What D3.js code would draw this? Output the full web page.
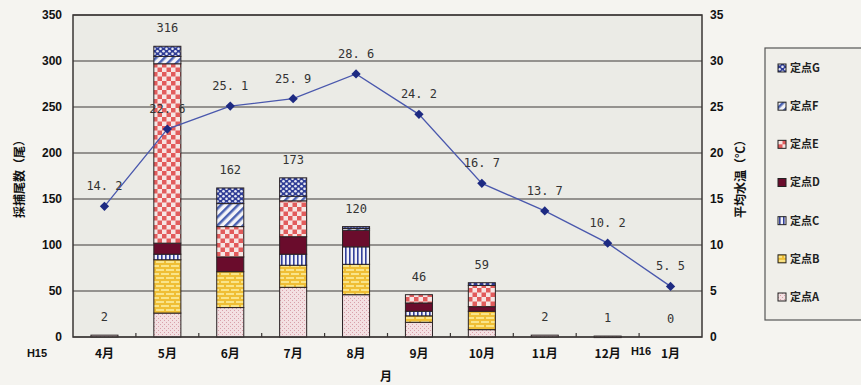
<!DOCTYPE html>
<html>
<head>
<meta charset="utf-8">
<script src="https://cdn.jsdelivr.net/npm/d3@7"></script>
<style>
  body { margin: 0; background: #f5f4f0; }
  svg { display: block; }
</style>
</head>
<body>
<div id="graph"></div>
<script>
// categories
var months = ["4月", "5月", "6月", "7月", "8月", "9月", "10月", "11月", "12月", "1月"];
// catch per station (stacked, bottom to top)
var pointA = [2, 26, 32, 54, 46, 16, 8, 2, 1, 0];
var pointB = [0, 58, 39, 24, 33, 7, 20, 0, 0, 0];
var pointC = [0, 6, 0, 12, 19, 5, 0, 0, 0, 0];
var pointD = [0, 12, 16, 19, 18, 9, 5, 0, 0, 0];
var pointE = [0, 195, 33, 39, 0, 9, 23, 0, 0, 0];
var pointF = [0, 8, 25, 5, 2, 0, 0, 0, 0, 0];
var pointG = [0, 11, 17, 20, 2, 0, 3, 0, 0, 0];
// mean water temperature
var temps = [14.2, 22.6, 25.1, 25.9, 28.6, 24.2, 16.7, 13.7, 10.2, 5.5];
// tick labels
var leftTicks = [0, 50, 100, 150, 200, 250, 300, 350];
var rightTicks = [0, 5, 10, 15, 20, 25, 30, 35];
var keys = ["A", "B", "C", "D", "E", "F", "G"];
var keyNames = ["定点A", "定点B", "定点C", "定点D", "定点E", "定点F", "定点G"];

var series = {A: pointA, B: pointB, C: pointC, D: pointD, E: pointE, F: pointF, G: pointG};
var rows = months.map(function(m, i) {
  var r = {month: m, temp: temps[i]};
  keys.forEach(function(k) { r[k] = series[k][i]; });
  return r;
});

var width = 861, height = 385;
var margin = {left: 73, right: 159, top: 15, bottom: 48};
var jpFont = "'Noto Sans CJK JP', sans-serif";
var numFont = "'Liberation Sans', Arial, sans-serif";
var monoFont = "'DejaVu Sans Mono', monospace";

var svg = d3.select("#graph").append("svg")
  .attr("width", width).attr("height", height);

var x = d3.scaleBand()
  .domain(months)
  .range([margin.left, width - margin.right])
  .paddingInner(0.57)
  .paddingOuter(0.285);

var y = d3.scaleLinear().domain([0, 350]).range([height - margin.bottom, margin.top]);
var y2 = d3.scaleLinear().domain([0, 35]).range([height - margin.bottom, margin.top]);

//patterns
var defs = svg.append("defs");

var pA = defs.append("pattern").attr("id", "patA").attr("patternUnits", "userSpaceOnUse")
  .attr("width", 4).attr("height", 4);
pA.append("rect").attr("width", 4).attr("height", 4).attr("fill", "#f3e0e2");
pA.append("rect").attr("x", 0).attr("y", 0).attr("width", 1).attr("height", 1).attr("fill", "#d9a0aa");
pA.append("rect").attr("x", 2).attr("y", 2).attr("width", 1).attr("height", 1).attr("fill", "#d9a0aa");

var pB = defs.append("pattern").attr("id", "patB").attr("patternUnits", "userSpaceOnUse")
  .attr("width", 10).attr("height", 8);
pB.append("rect").attr("width", 10).attr("height", 8).attr("fill", "#efbe35");
pB.append("rect").attr("x", 1).attr("y", 1).attr("width", 8).attr("height", 2).attr("fill", "#f9e48a");
pB.append("rect").attr("x", 6).attr("y", 5).attr("width", 8).attr("height", 2).attr("fill", "#f9e48a");
pB.append("rect").attr("x", -4).attr("y", 5).attr("width", 8).attr("height", 2).attr("fill", "#f9e48a");

var pC = defs.append("pattern").attr("id", "patC").attr("patternUnits", "userSpaceOnUse")
  .attr("width", 4).attr("height", 4);
pC.append("rect").attr("width", 4).attr("height", 4).attr("fill", "#f2f2f8");
pC.append("rect").attr("x", 1).attr("width", 1.6).attr("height", 4).attr("fill", "#33409a");

var pE = defs.append("pattern").attr("id", "patE").attr("patternUnits", "userSpaceOnUse")
  .attr("width", 9).attr("height", 9);
pE.append("rect").attr("width", 9).attr("height", 9).attr("fill", "#f6e6e4");
pE.append("rect").attr("width", 4.5).attr("height", 4.5).attr("fill", "#e25c5c");
pE.append("rect").attr("x", 4.5).attr("y", 4.5).attr("width", 4.5).attr("height", 4.5).attr("fill", "#e25c5c");

var pF = defs.append("pattern").attr("id", "patF").attr("patternUnits", "userSpaceOnUse")
  .attr("width", 6).attr("height", 6).attr("patternTransform", "rotate(45)");
pF.append("rect").attr("width", 6).attr("height", 6).attr("fill", "#f4f4f8");
pF.append("rect").attr("width", 2.5).attr("height", 6).attr("fill", "#4a62b2");

var pG = defs.append("pattern").attr("id", "patG").attr("patternUnits", "userSpaceOnUse")
  .attr("width", 6).attr("height", 5);
pG.append("rect").attr("width", 6).attr("height", 5).attr("fill", "#2f3d96");
pG.append("circle").attr("cx", 1.5).attr("cy", 1.3).attr("r", 1.3).attr("fill", "#e6e8f2");
pG.append("circle").attr("cx", 4.5).attr("cy", 3.8).attr("r", 1.3).attr("fill", "#e6e8f2");

var fills = {A: "url(#patA)", B: "url(#patB)", C: "url(#patC)", D: "#6a0c2c",
             E: "url(#patE)", F: "url(#patF)", G: "url(#patG)"};

//plot area
svg.append("rect")
  .attr("x", margin.left).attr("y", margin.top)
  .attr("width", width - margin.left - margin.right)
  .attr("height", height - margin.top - margin.bottom)
  .attr("fill", "#ebebe6");

//gridlines
svg.append("g").selectAll("line")
  .data(leftTicks)
  .enter().append("line")
  .attr("x1", margin.left).attr("x2", width - margin.right)
  .attr("y1", function(d) { return y(d); }).attr("y2", function(d) { return y(d); })
  .attr("stroke", "#3e3a38").attr("stroke-width", 1.2);

//stacked bars
var stack = d3.stack().keys(keys);
var layers = stack(rows);

svg.append("g").selectAll("g")
  .data(layers)
  .enter().append("g")
  .attr("fill", function(d) { return fills[d.key]; })
  .selectAll("rect")
  .data(function(d) { return d.filter(function(s) { return s[1] - s[0] > 0; }); })
  .enter().append("rect")
  .attr("x", function(d) { return x(d.data.month); })
  .attr("width", x.bandwidth())
  .attr("y", function(d) { return y(d[1]); })
  .attr("height", function(d) { return Math.max(1.5, y(d[0]) - y(d[1])); })
  .attr("stroke", "#2a2224").attr("stroke-width", 1);

//plot border
svg.append("rect")
  .attr("x", margin.left).attr("y", margin.top)
  .attr("width", width - margin.left - margin.right)
  .attr("height", height - margin.top - margin.bottom)
  .attr("fill", "none").attr("stroke", "#3a3634").attr("stroke-width", 1.5);

//x ticks at category boundaries
svg.append("g").selectAll("line")
  .data(months.slice(1))
  .enter().append("line")
  .attr("x1", function(d) { return x(d) - x.step() * x.paddingInner() / 2; })
  .attr("x2", function(d) { return x(d) - x.step() * x.paddingInner() / 2; })
  .attr("y1", y(0)).attr("y2", y(0) - 4)
  .attr("stroke", "#3a3634").attr("stroke-width", 1.2);

//total labels
svg.append("g").selectAll("text")
  .data(rows)
  .enter().append("text")
  .attr("x", function(d) { return x(d.month) + x.bandwidth() / 2; })
  .attr("y", function(d) {
    var t = d3.sum(keys, function(k) { return d[k]; });
    return y(t) - 14;
  })
  .attr("text-anchor", "middle")
  .attr("font-family", monoFont).attr("font-size", 12).attr("fill", "#333")
  .text(function(d) { return d3.sum(keys, function(k) { return d[k]; }); });

//temperature line
var line = d3.line()
  .x(function(d) { return x(d.month) + x.bandwidth() / 2; })
  .y(function(d) { return y2(d.temp); });

svg.append("path")
  .datum(rows)
  .attr("d", line)
  .attr("fill", "none").attr("stroke", "#4a58ad").attr("stroke-width", 1.3);

svg.append("g").selectAll("path")
  .data(rows)
  .enter().append("path")
  .attr("d", d3.symbol().type(d3.symbolDiamond2).size(55))
  .attr("transform", function(d) {
    return "translate(" + (x(d.month) + x.bandwidth() / 2) + "," + y2(d.temp) + ")";
  })
  .attr("fill", "#1d2a82");

svg.append("g").selectAll("text")
  .data(rows)
  .enter().append("text")
  .attr("x", function(d) { return x(d.month) + x.bandwidth() / 2; })
  .attr("y", function(d) { return y2(d.temp) - 16; })
  .attr("text-anchor", "middle")
  .attr("font-family", monoFont).attr("font-size", 12).attr("fill", "#333")
  .text(function(d) { return d.temp.toFixed(1).replace(".", ". "); });

//left axis labels
svg.append("g").selectAll("text")
  .data(leftTicks)
  .enter().append("text")
  .attr("x", 62).attr("y", function(d) { return y(d); })
  .attr("dy", "0.35em").attr("text-anchor", "end")
  .attr("font-family", numFont).attr("font-weight", "bold").attr("font-size", 12).attr("fill", "#111")
  .text(function(d) { return d; });

//right axis labels
svg.append("g").selectAll("text")
  .data(rightTicks)
  .enter().append("text")
  .attr("x", 710).attr("y", function(d) { return y2(d); })
  .attr("dy", "0.35em").attr("text-anchor", "start")
  .attr("font-family", numFont).attr("font-weight", "bold").attr("font-size", 12).attr("fill", "#111")
  .text(function(d) { return d; });

//month labels
svg.append("g").selectAll("text")
  .data(months)
  .enter().append("text")
  .attr("x", function(d) { return x(d) + x.bandwidth() / 2; })
  .attr("y", 358)
  .attr("text-anchor", "middle")
  .attr("font-family", jpFont).attr("font-weight", "bold").attr("font-size", 12).attr("fill", "#111")
  .text(function(d) { return d; });

svg.append("text").attr("x", 37).attr("y", 357).attr("text-anchor", "middle")
  .attr("font-family", numFont).attr("font-weight", "bold").attr("font-size", 11).attr("fill", "#111")
  .text("H15");
svg.append("text").attr("x", 641).attr("y", 355).attr("text-anchor", "middle")
  .attr("font-family", numFont).attr("font-weight", "bold").attr("font-size", 11).attr("fill", "#111")
  .text("H16");

//axis titles
svg.append("text").attr("x", 386).attr("y", 381).attr("text-anchor", "middle")
  .attr("font-family", jpFont).attr("font-weight", "bold").attr("font-size", 12).attr("fill", "#111")
  .text("月");
svg.append("text")
  .attr("transform", "translate(20,176) rotate(-90)")
  .attr("text-anchor", "middle").attr("dy", "0.35em")
  .attr("font-family", jpFont).attr("font-weight", "bold").attr("font-size", 12).attr("fill", "#111")
  .text("採捕尾数（尾）");
svg.append("text")
  .attr("transform", "translate(741,176) rotate(-90)")
  .attr("text-anchor", "middle").attr("dy", "0.35em")
  .attr("font-family", jpFont).attr("font-weight", "bold").attr("font-size", 12).attr("fill", "#111")
  .text("平均水温（℃）");

//legend
var legend = svg.append("g");
legend.append("rect")
  .attr("x", 765).attr("y", 48).attr("width", 110).attr("height", 272)
  .attr("fill", "#f0efea").attr("stroke", "#555").attr("stroke-width", 1.2);

var legendY = d3.scalePoint().domain(keys.slice().reverse()).range([68, 297]);
var item = legend.selectAll(".item")
  .data(keys)
  .enter().append("g")
  .attr("class", "item")
  .attr("transform", function(d) { return "translate(778," + legendY(d) + ")"; });

item.append("rect")
  .attr("x", 0).attr("y", -4).attr("width", 8).attr("height", 8)
  .attr("fill", function(d) { return fills[d]; })
  .attr("stroke", "#222").attr("stroke-width", 1);

item.append("text")
  .attr("x", 12).attr("dy", "0.35em")
  .attr("font-family", jpFont).attr("font-weight", "bold").attr("font-size", 11).attr("fill", "#222")
  .text(function(d, i) { return keyNames[i]; });
</script>
</body>
</html>
